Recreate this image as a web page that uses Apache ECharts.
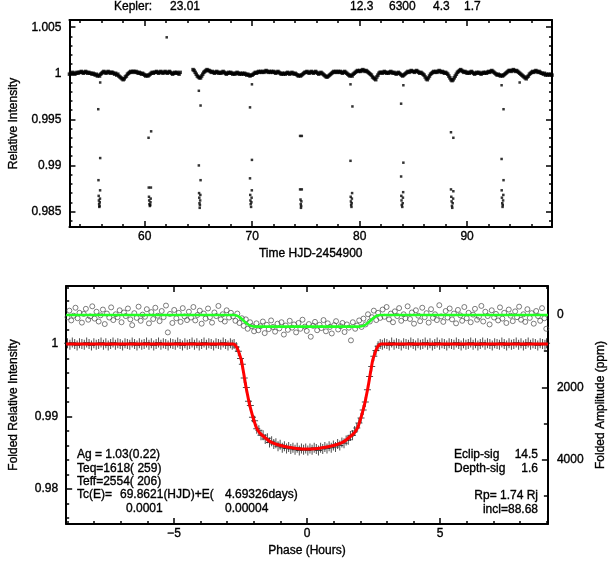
<!DOCTYPE html>
<html><head><meta charset="utf-8">
<script src="https://cdn.jsdelivr.net/npm/echarts@6/dist/echarts.min.js"></script>
<style>html,body{margin:0;padding:0;background:#fff}#c{width:615px;height:561px}</style>
</head><body><div id="c"></div>
<script>
// ================= DATA =================
// Top panel: light curve (time HJD-2454900, relative intensity)
const topXRange = [53.0, 97.9];
const topYRange = [0.98332, 1.00578];
const topXTicks = [60, 70, 80, 90];
const topXMinor = [54,56,58,60,62,64,66,68,70,72,74,76,78,80,82,84,86,88,90,92,94,96];
const topYTicks = [0.985, 0.99, 0.995, 1, 1.005];
const topYMinor = [0.984,0.985,0.986,0.987,0.988,0.989,0.990,0.991,0.992,0.993,0.994,0.995,0.996,0.997,0.998,0.999,1.000,1.001,1.002,1.003,1.004,1.005];

// out-of-transit baseline, regular cadence segments; deviations in units of 1e-4
const baseAStart = 53.0, baseBStart = 64.5, baseStep = 0.1;
const baseA_dev = [
 -1,0,-1,1,0,-1,0,1,0,1,
 1,2,1,0,1,2,1,0,1,0,
 0,-1,0,-1,-2,-1,-3,-2,-3,-1,
 0,1,2,1,0,1,2,1,0,1,
 1,0,-1,0,-2,-1,-3,-4,-5,-6,
 -7,-6,-4,-3,-1,0,1,2,1,2,
 2,1,2,1,0,1,0,-1,0,-1,
 -2,-3,-2,-3,-2,-1,0,1,0,1,
 1,2,1,0,1,2,1,0,1,2,
 1,0,1,2,1,0,-1,0,1,0,
 1,0,-1,1];
const baseB_dev = [
 4,3,1,-1,-3,
 -4,-5,-5,-3,-1,1,2,3,4,3,
 3,2,1,2,1,0,1,2,1,0,
 1,0,1,2,1,0,-1,0,1,0,
 1,0,-1,0,-1,0,1,0,-1,0,
 -1,0,-1,0,-1,-2,-1,-2,-3,-2,
 -2,-1,0,1,0,1,2,1,2,1,
 2,1,2,3,2,1,2,1,2,1,
 2,1,0,1,2,1,0,-1,0,-1,
 0,-1,0,1,0,-1,0,1,0,-1,
 0,-1,-2,-3,-2,-3,-2,-1,0,1,
 1,2,1,0,1,2,1,0,1,2,
 1,0,-1,0,1,0,-1,-2,-3,-4,
 -4,-3,-2,-1,0,1,2,1,2,1,
 2,1,2,1,0,1,2,1,0,-1,
 -2,-3,-2,-3,-1,0,1,2,3,2,
 3,2,3,4,3,2,3,2,1,0,
 -1,-2,-4,-5,-6,-7,-4,-2,0,1,
 1,0,1,2,1,0,1,0,1,2,
 1,0,1,0,-1,0,1,0,-1,-2,
 -3,-2,-1,0,1,2,1,2,3,2,
 2,1,2,3,2,1,0,1,0,-1,
 -2,-4,-6,-7,-5,-3,-1,0,1,2,
 1,2,1,2,3,2,1,2,1,0,
 1,0,-1,-3,-5,-7,-8,-7,-5,-3,
 -1,1,2,3,4,3,2,1,2,1,
 0,1,0,1,2,1,0,-1,0,1,
 0,1,0,-1,0,1,0,1,0,1,
 2,1,2,3,2,1,0,-1,-2,-1,
 -2,-3,-2,-3,-2,-1,0,1,2,3,
 3,2,3,4,3,2,3,2,1,0,
 -1,-2,-3,-4,-5,-6,-4,-3,-1,0,
 1,2,1,2,3,2,1,2,1,0,
 0,-1,0,-2,-1,-2,-1,-2,-1,-2];

// in-transit and outlier points [time, relative intensity]
const transitPts = [
 [55.86,0.9990],[55.68,0.9961],[55.86,0.9908],[55.70,0.9884],[55.85,0.9873],[55.72,0.9867],[55.84,0.9864],[55.74,0.9862],[55.82,0.9860],[55.76,0.9858],[55.80,0.9856],[55.78,0.9855],
 [60.36,0.9930],[60.60,0.9937],[60.38,0.9876],[60.58,0.9876],[60.40,0.9866],[60.56,0.9864],[60.42,0.9862],[60.54,0.9860],[60.44,0.9858],[60.52,0.9857],[60.48,0.9856],
 [65.04,0.9981],[65.20,0.9965],[65.04,0.9900],[65.20,0.9884],[65.06,0.9870],[65.18,0.9868],[65.08,0.9865],[65.16,0.9862],[65.10,0.9859],[65.14,0.9857],[65.12,0.9854],
 [69.98,0.9988],[69.80,0.9963],[69.98,0.9906],[69.80,0.9886],[69.97,0.9873],[69.82,0.9868],[69.95,0.9865],[69.84,0.9862],[69.93,0.9860],[69.86,0.9858],[69.90,0.9855],
 [74.46,0.9932],[74.62,0.9932],[74.46,0.9874],[74.62,0.9874],[74.50,0.9863],[74.58,0.9861],[74.52,0.9858],[74.56,0.9856],[74.54,0.9854],
 [79.15,0.9988],[79.33,0.9964],[79.15,0.9905],[79.30,0.9870],[79.17,0.9866],[79.28,0.9864],[79.19,0.9861],[79.26,0.9859],[79.21,0.9857],[79.24,0.9855],
 [84.07,0.9987],[83.86,0.9967],[84.07,0.9903],[83.86,0.9888],[84.05,0.9871],[83.88,0.9867],[84.03,0.9865],[83.90,0.9862],[84.01,0.9859],[83.92,0.9857],[83.97,0.9855],
 [88.50,0.9936],[88.72,0.9930],[88.50,0.9874],[88.72,0.9872],[88.53,0.9866],[88.70,0.9864],[88.56,0.9861],[88.66,0.9859],[88.59,0.9856],[88.62,0.9854],
 [93.21,0.9987],[93.39,0.9961],[93.21,0.9907],[93.39,0.9884],[93.22,0.9873],[93.37,0.9868],[93.24,0.9865],[93.35,0.9862],[93.27,0.9859],[93.32,0.9857],[93.30,0.9855],
 [62.05,1.0039],[94.89,0.9990]
];

// Bottom panel: folded light curve (phase in hours)
const botXRange = [-9.05, 9.05];
const botYRange = [0.97517, 1.0080];
const ppmRange = [-800, 5766];
const botXTicks = [-5, 0, 5];
const botXMinor = [-9,-8,-7,-6,-5,-4,-3,-2,-1,0,1,2,3,4,5,6,7,8,9];
const botYTicks = [0.98, 0.99, 1];
const botYMinor = [0.976,0.978,0.980,0.982,0.984,0.986,0.988,0.990,0.992,0.994,0.996,0.998,1.000,1.002,1.004,1.006];
const ppmTicks = [0, 2000, 4000];
const ppmMinor = [1000, 3000, 5000];

// folded data points (black crosses) [phase, relative intensity]
const foldedFlux = [
 [-9.00,1.0001],[-8.91,0.9999],[-8.82,1.0002],[-8.73,1.0000],[-8.64,0.9998],[-8.55,1.0001],[-8.46,1.0000],[-8.37,0.9999],[-8.28,1.0002],[-8.19,1.0000],
 [-8.10,0.9998],[-8.01,1.0001],[-7.92,0.9999],[-7.83,1.0000],[-7.74,1.0002],[-7.65,0.9999],[-7.56,1.0001],[-7.47,0.9998],[-7.38,1.0000],[-7.29,1.0002],
 [-7.20,0.9999],[-7.11,1.0001],[-7.02,1.0000],[-6.93,0.9998],[-6.84,1.0001],[-6.75,1.0000],[-6.66,0.9999],[-6.57,1.0002],[-6.48,1.0000],[-6.39,0.9998],
 [-6.30,1.0001],[-6.21,0.9999],[-6.12,1.0000],[-6.03,1.0002],[-5.94,0.9999],[-5.85,1.0001],[-5.76,0.9998],[-5.67,1.0000],[-5.58,1.0002],[-5.49,0.9999],
 [-5.40,1.0001],[-5.31,1.0000],[-5.22,0.9998],[-5.13,1.0001],[-5.04,1.0000],[-4.95,0.9999],[-4.86,1.0002],[-4.77,1.0000],[-4.68,0.9998],[-4.59,1.0001],
 [-4.50,0.9999],[-4.41,1.0000],[-4.32,1.0002],[-4.23,0.9999],[-4.14,1.0001],[-4.05,0.9998],[-3.96,1.0000],[-3.87,1.0002],[-3.78,0.9999],[-3.69,1.0001],
 [-3.60,1.0000],[-3.51,0.9998],[-3.42,1.0001],[-3.33,1.0000],[-3.24,0.9999],[-3.15,1.0002],[-3.06,1.0000],[-2.97,0.9998],[-2.88,1.0001],[-2.81,0.9999],
 [-2.74,1.0000],[-2.66,0.9996],[-2.58,0.9990],[-2.50,0.9980],[-2.43,0.9972],[-2.36,0.9953],[-2.28,0.9940],[-2.20,0.9921],[-2.13,0.9915],[-2.05,0.9899],
 [-1.97,0.9894],[-1.89,0.9883],[-1.81,0.9881],[-1.73,0.9874],[-1.65,0.9874],[-1.57,0.9869],[-1.49,0.9870],[-1.41,0.9864],[-1.33,0.9866],[-1.25,0.9862],
 [-1.17,0.9863],[-1.09,0.9859],[-1.01,0.9861],[-0.93,0.9857],[-0.85,0.9859],[-0.77,0.9856],[-0.69,0.9858],[-0.61,0.9855],[-0.53,0.9857],[-0.45,0.9854],
 [-0.37,0.9857],[-0.29,0.9853],[-0.21,0.9856],[-0.13,0.9854],[-0.05,0.9856],[0.03,0.9853],[0.11,0.9856],[0.19,0.9854],[0.27,0.9857],[0.35,0.9855],
 [0.43,0.9853],[0.51,0.9857],[0.59,0.9855],[0.67,0.9858],[0.75,0.9856],[0.83,0.9859],[0.91,0.9857],[0.99,0.9860],[1.07,0.9858],[1.15,0.9862],
 [1.23,0.9860],[1.31,0.9864],[1.39,0.9863],[1.47,0.9867],[1.55,0.9868],[1.63,0.9873],[1.71,0.9874],[1.79,0.9880],[1.87,0.9884],[1.95,0.9891],
 [2.03,0.9898],[2.11,0.9909],[2.19,0.9920],[2.27,0.9937],[2.35,0.9955],[2.43,0.9969],[2.51,0.9983],[2.59,0.9991],[2.67,0.9997],[2.75,1.0000],
 [2.83,0.9999],[2.91,1.0001],[3.00,1.0000],[3.09,0.9998],[3.18,1.0002],[3.27,0.9999],[3.36,1.0001],[3.45,1.0000],[3.54,0.9998],[3.63,1.0001],
 [3.72,1.0000],[3.81,0.9999],[3.90,1.0002],[3.99,1.0000],[4.08,0.9998],[4.17,1.0001],[4.26,0.9999],[4.35,1.0000],[4.44,1.0002],[4.53,0.9999],
 [4.62,1.0001],[4.71,0.9998],[4.80,1.0000],[4.89,1.0002],[4.98,0.9999],[5.07,1.0001],[5.16,1.0000],[5.25,0.9998],[5.34,1.0001],[5.43,1.0000],
 [5.52,0.9999],[5.61,1.0002],[5.70,1.0000],[5.79,0.9998],[5.88,1.0001],[5.97,0.9999],[6.06,1.0000],[6.15,1.0002],[6.24,0.9999],[6.33,1.0001],
 [6.42,0.9998],[6.51,1.0000],[6.60,1.0002],[6.69,0.9999],[6.78,1.0001],[6.87,1.0000],[6.96,0.9998],[7.05,1.0001],[7.14,1.0000],[7.23,0.9999],
 [7.32,1.0002],[7.41,1.0000],[7.50,0.9998],[7.59,1.0001],[7.68,0.9999],[7.77,1.0000],[7.86,1.0002],[7.95,0.9999],[8.04,1.0001],[8.13,0.9998],
 [8.22,1.0000],[8.31,1.0002],[8.40,0.9999],[8.49,1.0001],[8.58,1.0000],[8.67,0.9998],[8.76,1.0001],[8.85,1.0000],[8.94,0.9999],[9.00,1.0001]
];

// transit model (red line) [phase, relative intensity]
const transitModel = [
 [-9.05,1.0000],[-2.80,1.0000],[-2.72,0.9999],[-2.62,0.9994],[-2.53,0.9985],[-2.47,0.9978],[-2.41,0.9966],[-2.35,0.9953],[-2.29,0.9940],
 [-2.23,0.9929],[-2.17,0.9918],[-2.10,0.9908],[-2.04,0.9900],[-1.98,0.9893],[-1.92,0.9886],[-1.83,0.9880],[-1.74,0.9876],[-1.55,0.9870],
 [-1.37,0.9865],[-1.10,0.9861],[-0.75,0.9858],[-0.40,0.9856],[0,0.9855],[0.40,0.9856],[0.75,0.9858],[1.10,0.9861],[1.37,0.9865],
 [1.55,0.9870],[1.74,0.9876],[1.83,0.9880],[1.92,0.9886],[1.98,0.9893],[2.04,0.9900],[2.10,0.9908],[2.17,0.9918],[2.23,0.9929],
 [2.29,0.9940],[2.35,0.9953],[2.41,0.9966],[2.47,0.9978],[2.53,0.9985],[2.62,0.9994],[2.72,0.9999],[2.80,1.0000],[9.05,1.0000]
];

// folded amplitude at opposite phase (gray circles) [phase, ppm]
const foldedAmp = [
 [-9.00,60],[-8.93,-120],[-8.86,150],[-8.77,20],[-8.70,-200],[-8.62,90],[-8.55,-60],[-8.46,210],[-8.39,-30],[-8.31,-170],
 [-8.22,130],[-8.15,40],[-8.07,-240],[-7.98,100],[-7.91,-90],[-7.83,180],[-7.76,10],[-7.67,-150],[-7.60,250],[-7.52,-40],
 [-7.43,70],[-7.36,-210],[-7.28,140],[-7.19,-20],[-7.12,60],[-7.04,-130],[-6.97,200],[-6.88,-70],[-6.81,30],[-6.73,-180],
 [-6.64,120],[-6.57,280],[-6.49,-50],[-6.40,80],[-6.33,-230],[-6.25,160],[-6.18,-10],[-6.09,50],[-6.02,-160],[-5.94,230],
 [-5.85,-80],[-5.78,110],[-5.70,-200],[-5.61,20],[-5.54,170],[-5.46,-110],[-5.39,60],[-5.30,-260],[-5.23,480],[-5.15,-30],
 [-5.06,220],[-4.99,-140],[-4.91,90],[-4.82,-60],[-4.75,190],[-4.67,-190],[-4.60,40],[-4.51,140],[-4.44,-90],[-4.36,70],
 [-4.27,-220],[-4.20,150],[-4.12,0],[-4.03,-120],[-3.96,240],[-3.88,-40],[-3.81,100],[-3.72,-180],[-3.65,60],[-3.57,210],
 [-3.48,-70],[-3.41,30],[-3.33,-250],[-3.24,120],[-3.17,-20],[-3.09,180],[-3.02,-130],[-2.93,70],[-2.86,-60],
 [-2.78,40],[-2.69,160],[-2.62,-40],[-2.54,220],[-2.45,90],[-2.38,300],[-2.30,120],[-2.23,380],[-2.14,200],[-2.07,310],[-1.99,450],
 [-1.90,230],[-1.83,420],[-1.75,310],[-1.66,180],[-1.59,500],[-1.51,270],[-1.44,390],[-1.35,150],[-1.28,330],[-1.20,460],
 [-1.11,240],[-1.04,370],[-0.96,200],[-0.87,540],[-0.80,290],[-0.72,410],[-0.65,160],[-0.56,350],[-0.49,260],[-0.41,480],
 [-0.32,220],[-0.25,380],[-0.17,130],[-0.08,320],[-0.01,440],[0.07,250],[0.14,600],[0.23,300],[0.30,190],[0.38,420],
 [0.47,270],[0.54,360],[0.62,140],[0.71,450],[0.78,230],[0.86,330],[0.93,510],[1.02,280],[1.09,170],[1.17,400],
 [1.26,310],[1.33,220],[1.41,470],[1.50,260],[1.57,350],[1.65,700],[1.72,200],[1.81,380],[1.88,290],
 [1.96,150],[2.05,330],[2.12,100],[2.20,260],[2.29,-20],[2.36,180],[2.44,60],[2.51,-120],[2.60,140],[2.67,-60],[2.75,80],
 [2.84,-150],[2.91,50],[2.99,-220],[3.08,120],[3.15,-40],[3.23,200],[3.30,-100],[3.39,30],[3.46,-190],[3.54,160],
 [3.63,-20],[3.70,90],[3.78,-240],[3.87,110],[3.94,-70],[4.02,240],[4.09,-130],[4.18,20],[4.25,170],[4.33,-200],
 [4.42,60],[4.49,-50],[4.57,210],[4.66,-160],[4.73,80],[4.81,-20],[4.88,140],[4.97,-270],[5.04,40],[5.12,190],
 [5.21,-110],[5.28,70],[5.36,-180],[5.45,120],[5.52,-40],[5.60,230],[5.67,-140],[5.76,10],[5.83,160],[5.91,-220],
 [6.00,90],[6.07,-60],[6.15,200],[6.24,-10],[6.31,-170],[6.39,130],[6.46,50],[6.55,-250],[6.62,180],[6.70,-90],
 [6.79,30],[6.86,260],[6.94,-130],[7.03,70],[7.10,-30],[7.18,150],[7.25,-210],[7.34,100],[7.41,-60],[7.49,220],
 [7.58,-150],[7.65,20],[7.73,170],[7.82,-100],[7.89,60],[7.97,-230],[8.04,130],[8.13,-20],[8.20,190],[8.28,-160],
 [8.37,80],[8.44,-50],[8.52,240],[8.61,-110],[8.68,30],[8.76,160],[8.83,-190],[8.92,90],[8.99,380]
];

// eclipse model (green line) [phase, ppm]
const eclipseModel = [
 [-9.05,0],[-2.75,0],[-2.65,15],[-2.55,50],[-2.45,110],[-2.35,180],[-2.25,240],[-2.15,285],[-2.05,310],[-1.95,320],
 [1.95,320],[2.05,310],[2.15,285],[2.25,240],[2.35,180],[2.45,110],[2.55,50],[2.65,15],[2.75,0],[9.05,0]
];

// text
const headerTexts = ['Kepler:', '23.01', '12.3', '6300', '4.3', '1.7'];
const leftNotes = ['Ag = 1.03(0.22)', 'Teq=1618( 259)', 'Teff=2554( 206)'];
const tcParts = ['Tc(E)=', '69.8621(HJD)+E(', '4.69326days)', '0.0001', '0.00004'];
const rightLabels = ['Eclip-sig', 'Depth-sig'];
const rightValues = ['14.5', '1.6'];
const rightNotes = ['Rp= 1.74 Rj', 'incl=88.68'];
const axisNames = {
  topX: 'Time HJD-2454900', topY: 'Relative Intensity',
  botX: 'Phase (Hours)', botY: 'Folded Relative Intensity', botY2: 'Folded Amplitude (ppm)'
};

// ================= CHART =================
const FONT = '"Liberation Sans", Arial, Helvetica, sans-serif';
const BLACK = '#000';
const STROKE = 0.35;
const numFmt = v => String(+(+v).toFixed(4)).replace('-', '\u2212');

function ax(gridIndex, position, range, ticks, len, labels, extra) {
  const a = {
    type: 'value', gridIndex, position, min: range[0], max: range[1],
    splitLine: { show: false }, minorTick: { show: false },
    axisLine: { show: !!(extra && extra.line), onZero: false, lineStyle: { color: BLACK, width: 2 } },
    axisTick: { show: true, inside: true, length: len, customValues: ticks, lineStyle: { color: BLACK, width: 1.5 } },
    axisLabel: labels ? { show: true, customValues: labels, color: BLACK, fontSize: 12, fontFamily: FONT, margin: extra.margin,
      textBorderColor: BLACK, textBorderWidth: STROKE, formatter: numFmt } : { show: false }
  };
  if (extra && extra.name) {
    a.name = extra.name; a.nameLocation = 'middle'; a.nameGap = extra.nameGap;
    if (extra.nameRotate !== undefined) a.nameRotate = extra.nameRotate;
    a.nameTextStyle = { color: BLACK, fontSize: 12, fontFamily: FONT, textBorderColor: BLACK, textBorderWidth: STROKE };
  }
  if (extra && extra.inverse) a.inverse = true;
  return a;
}

const xAxis = [
  ax(0, 'bottom', topXRange, topXTicks, 6, topXTicks, { line: true, margin: 4, name: axisNames.topX, nameGap: 21 }),
  ax(0, 'bottom', topXRange, topXMinor, 3),
  ax(0, 'top', topXRange, topXTicks, 6, null, { line: true }),
  ax(0, 'top', topXRange, topXMinor, 3),
  ax(1, 'bottom', botXRange, botXTicks, 6, botXTicks, { line: true, margin: 4, name: axisNames.botX, nameGap: 21 }),
  ax(1, 'bottom', botXRange, botXMinor, 3),
  ax(1, 'top', botXRange, botXTicks, 6, null, { line: true }),
  ax(1, 'top', botXRange, botXMinor, 3)
];
const yAxis = [
  ax(0, 'left', topYRange, topYTicks, 6, topYTicks, { line: true, margin: 8, name: axisNames.topY, nameGap: 46, nameRotate: 90 }),
  ax(0, 'left', topYRange, topYMinor, 3),
  ax(0, 'right', topYRange, topYTicks, 6, null, { line: true }),
  ax(0, 'right', topYRange, topYMinor, 3),
  ax(1, 'left', botYRange, botYTicks, 6, botYTicks, { line: true, margin: 8, name: axisNames.botY, nameGap: 46, nameRotate: 90 }),
  ax(1, 'left', botYRange, botYMinor, 3),
  ax(1, 'right', ppmRange, ppmTicks, 6, ppmTicks, { line: true, margin: 9, inverse: true, name: axisNames.botY2, nameGap: 43, nameRotate: 90 }),
  ax(1, 'right', ppmRange, ppmMinor, 4, null, { inverse: true })
];

const baseline = [];
baseA_dev.forEach((d, i) => baseline.push([baseAStart + i * baseStep, 1 + d * 1e-4]));
baseB_dev.forEach((d, i) => baseline.push([baseBStart + i * baseStep, 1 + d * 1e-4]));

const crossPath = 'path://M3,0h1v10h-1z M0,4.5h7v1h-7z';

const series = [
  { type: 'scatter', xAxisIndex: 0, yAxisIndex: 0, data: baseline, symbol: 'rect', symbolSize: 3.5, itemStyle: { color: BLACK }, z: 3 },
  { type: 'scatter', xAxisIndex: 0, yAxisIndex: 0, data: transitPts, symbol: 'rect', symbolSize: 2.5, itemStyle: { color: BLACK }, z: 3 },
  { type: 'scatter', xAxisIndex: 4, yAxisIndex: 6, data: foldedAmp, symbol: 'circle', symbolSize: 5,
    itemStyle: { color: 'rgba(0,0,0,0)', borderColor: '#4a4a4a', borderWidth: 0.9 }, z: 2 },
  { type: 'line', xAxisIndex: 4, yAxisIndex: 6, data: eclipseModel, symbol: 'none', smooth: 0.3,
    lineStyle: { color: '#22ff22', width: 2.6 }, z: 4 },
  { type: 'scatter', xAxisIndex: 4, yAxisIndex: 4, data: foldedFlux, symbol: crossPath, symbolSize: [7, 10],
    itemStyle: { color: '#222' }, z: 3 },
  { type: 'line', xAxisIndex: 4, yAxisIndex: 4, data: transitModel, symbol: 'none', smooth: 0.3,
    lineStyle: { color: '#ff0000', width: 3 }, z: 5 }
];

function txt(x, y, s, align) {
  return { type: 'text', x, y, silent: true, z: 100,
    style: { text: s, font: '12px ' + FONT, fill: BLACK, stroke: BLACK, lineWidth: STROKE, align: align || 'left', verticalAlign: 'middle' } };
}
const hx = [114, 170, 350, 389, 433, 464];
const graphic = [];
headerTexts.forEach((s, i) => graphic.push(txt(hx[i], 7, s)));
leftNotes.forEach((s, i) => graphic.push(txt(77, 455 + i * 13.3, s)));
graphic.push(txt(77, 495, tcParts[0]));
graphic.push(txt(120, 495, tcParts[1]));
graphic.push(txt(225, 495, tcParts[2]));
graphic.push(txt(126, 508.3, tcParts[3]));
graphic.push(txt(225, 508.3, tcParts[4]));
rightLabels.forEach((s, i) => graphic.push(txt(454, 455 + i * 14, s)));
rightValues.forEach((s, i) => graphic.push(txt(538, 455 + i * 14, s, 'right')));
rightNotes.forEach((s, i) => graphic.push(txt(538, 496 + i * 13.3, s, 'right')));

const chart = echarts.init(document.getElementById('c'), null, { renderer: 'canvas' });
chart.setOption({
  animation: false,
  backgroundColor: '#fff',
  grid: [
    { left: 62, top: 20, width: 490, height: 207 },
    { left: 62, top: 286, width: 490, height: 238 }
  ],
  xAxis, yAxis, series, graphic
});
</script></body></html>
